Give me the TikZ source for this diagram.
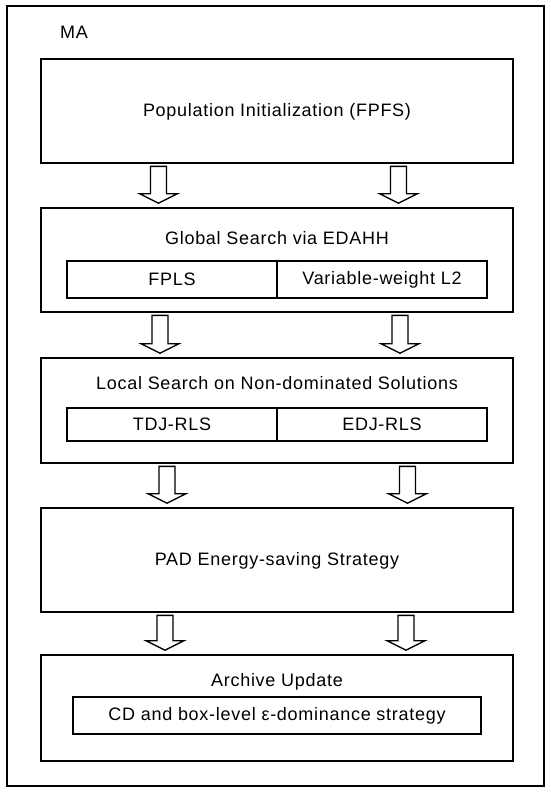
\documentclass[tikz,border=0pt]{standalone}
\usepackage{fontspec}
\setmainfont{Liberation Sans}[LetterSpace=4]
\usepackage{tikz}
\usetikzlibrary{calc, positioning}

\tikzset{
  frame/.style={draw=black, line width=1.6pt, inner sep=0pt},
  stage/.style={frame, minimum width=472pt, minimum height=104pt},
  part/.style={draw=black, line width=1.5pt, inner sep=0pt, minimum height=37pt},
  hollow/.style={draw=black, line width=1.4pt, line join=miter, fill=white},
  lbl/.style={inner sep=0pt, font=\fontsize{18}{22}\selectfont}
}

\begin{document}
\begin{tikzpicture}[x=1pt, y=-1pt]
  \useasboundingbox (0,0) rectangle (550,792);

  % Outer frame
  \node[frame, minimum width=537pt, minimum height=780pt] (ma) at (275.5,396) {};
  \node[lbl, anchor=west] (matxt) at (60,32) {MA};

  % Stages
  \node[stage] (init) at (277,111) {};
  \node[lbl] (inittxt) at (277,112) {Population Initialization (FPFS)};

  \node[stage] (glob) at (277,260) {};
  \node[lbl] (globtxt) at (277,238) {Global Search via EDAHH};
  \node[part, minimum width=210pt] (fpls) at (172,279.5) {};
  \node[part, minimum width=210pt] (vwl) at (382,279.5) {};
  \node[lbl] at (fpls) {FPLS};
  \node[lbl] at (vwl) {Variable-weight L2};

  \node[stage, minimum height=105pt] (local) at (277,410.5) {};
  \node[lbl] (localtxt) at (277,383) {Local Search on Non-dominated Solutions};
  \node[part, minimum width=210pt, minimum height=33pt] (tdj) at (172,424.5) {};
  \node[part, minimum width=210pt, minimum height=33pt] (edj) at (382,424.5) {};
  \node[lbl] at (tdj) {TDJ-RLS};
  \node[lbl] at (edj) {EDJ-RLS};

  \node[stage] (pad) at (277,560) {};
  \node[lbl] (padtxt) at (277,561) {PAD Energy-saving Strategy};

  \node[stage, minimum height=106pt] (arch) at (277,708) {};
  \node[lbl] (archtxt) at (277,682) {Archive Update};
  \node[part, minimum width=408pt] (cdbox) at (277,715.5) {};
  \node[lbl] at (cdbox) {CD and box-level ε-dominance strategy};

  % Hollow arrows between stages
  \foreach \up/\dn/\xl/\xr in {init/glob/158.5/398.5, glob/local/160/400,
                               local/pad/167/407.5, pad/arch/165/406}{
    \foreach \xx in {\xl,\xr}{
      \coordinate (col) at (\xx,0);
      \coordinate (top) at ($(\up.south -| col)+(0,2.5)$);
      \coordinate (tip) at ($(\dn.north -| col)+(0,-4)$);
      \draw[hollow] ($(top)+(-8,0)$) -- ($(tip)+(-8,-9.5)$) -- ($(tip)+(-19,-9.5)$)
        -- (tip) -- ($(tip)+(19,-9.5)$) -- ($(tip)+(8,-9.5)$) -- ($(top)+(8,0)$) -- cycle;
    }
  }
\end{tikzpicture}
\end{document}
